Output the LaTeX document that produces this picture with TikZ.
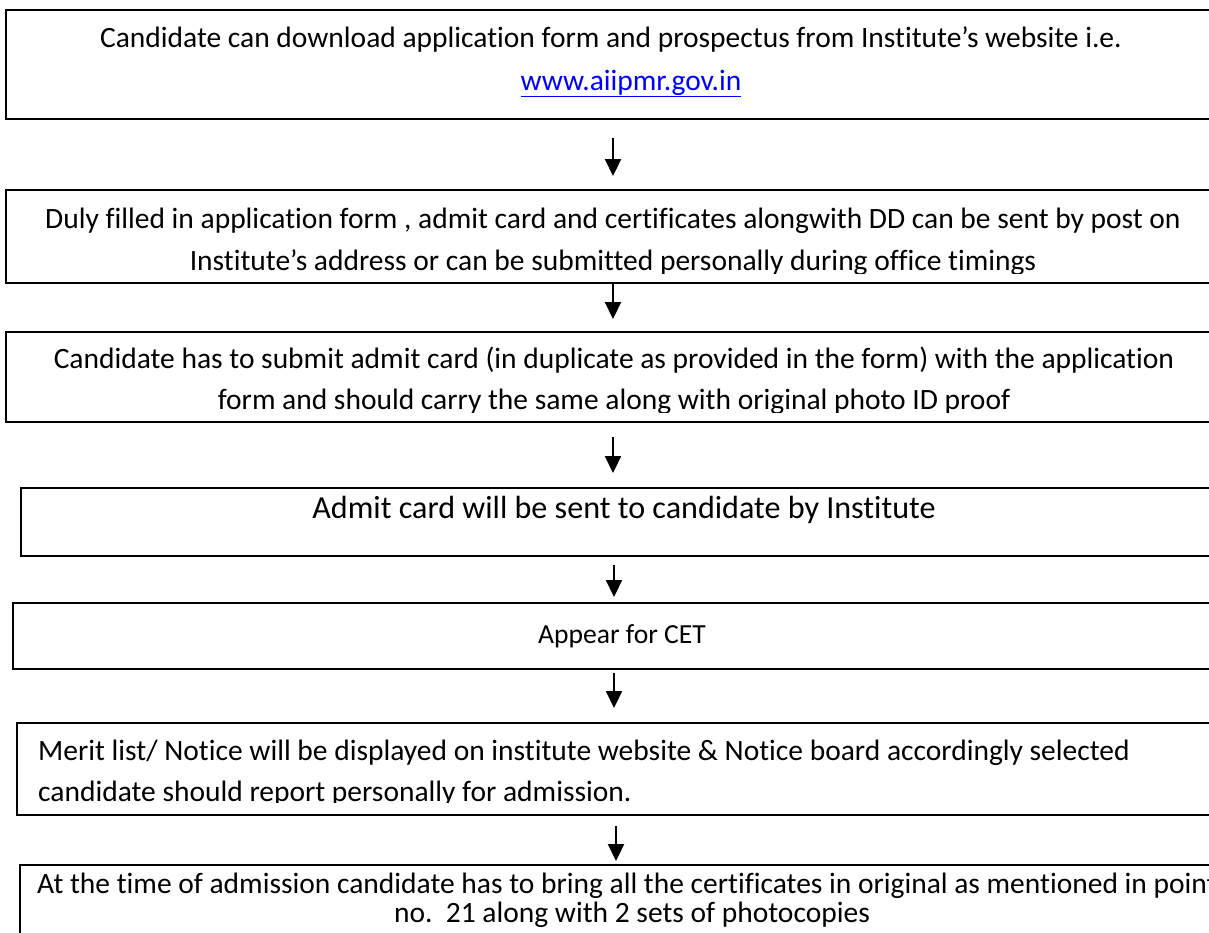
\documentclass[tikz,border=0pt]{standalone}
\usepackage{fontspec}
\setmainfont{Carlito}[Ligatures=NoCommon]
\usetikzlibrary{arrows.meta}
\definecolor{linkblue}{RGB}{0,0,255}
\tikzset{
  box/.style={draw=black, line width=2pt, inner sep=0pt, anchor=north west},
  arr/.style={line width=2.2pt, -{Triangle[length=17pt,width=16pt]}},
  txt/.style={anchor=base, inner sep=0pt, font=\fontsize{29.5}{35}\selectfont},
  txtl/.style={anchor=base west, inner sep=0pt, font=\fontsize{29.5}{35}\selectfont},
}
\begin{document}
\begin{tikzpicture}[x=1pt,y=-1pt]
\useasboundingbox (0,0) rectangle (1209,932);
\fill[white] (0,0) rectangle (1209,932);

% boxes
\node[box, minimum width=1225pt, minimum height=109pt] (b1) at (5,9) {};
\node[box, minimum width=1225pt, minimum height=93pt] (b2) at (5,189) {};
\node[box, minimum width=1225pt, minimum height=90pt] (b3) at (5,331) {};
\node[box, minimum width=1210pt, minimum height=68pt] (b4) at (20,487) {};
\node[box, minimum width=1218pt, minimum height=66pt] (b5) at (12,602) {};
\node[box, minimum width=1214pt, minimum height=92pt] (b6) at (16,722) {};
\node[box, minimum width=1211pt, minimum height=100pt] (b7) at (19,864) {};

% texts
\node[txt] (t1a) at (611,47) {Candidate can download application form and prospectus from Institute’s website i.e.};
\node[txt, text=linkblue] (t1b) at (631,90) {\underline{www.aiipmr.gov.in}};

\begin{scope}
\clip (0,190) rectangle (1209,273);
\node[txt] (t2a) at (613,228) {Duly filled in application form , admit card and certificates alongwith DD can be sent by post on};
\node[txt] (t2b) at (613,270) {Institute’s address or can be submitted personally during office timings};
\end{scope}

\begin{scope}
\clip (0,332) rectangle (1209,412);
\node[txt] (t3a) at (614,368) {Candidate has to submit admit card (in duplicate as provided in the form) with the application};
\node[txt] (t3b) at (614,409) {form and should carry the same along with original photo ID proof};
\end{scope}

\node[txt, font=\fontsize{32.1}{38}\selectfont] (t4) at (624,518) {Admit card will be sent to candidate by Institute};
\node[txt, font=\fontsize{27.6}{33}\selectfont] (t5) at (622,643) {Appear for CET};

\begin{scope}
\clip (0,723) rectangle (1209,802);
\node[txtl] (t6a) at (38,760) {Merit list/ Notice will be displayed on institute website \& Notice board accordingly selected};
\node[txtl] (t6b) at (38,801) {candidate should report personally for admission.};
\end{scope}

\node[txt] (t7a) at (627,893) {At the time of admission candidate has to bring all the certificates in original as mentioned in point};
\node[txt] (t7b) at (632,922) {no.\ \ 21 along with 2 sets of photocopies};

% arrows
\coordinate (a1s) at (613,138); \coordinate (a1e) at (613,176);
\coordinate (a2s) at (613,282); \coordinate (a2e) at (613,319);
\coordinate (a3s) at (613,437); \coordinate (a3e) at (613,473);
\coordinate (a4s) at (614,565); \coordinate (a4e) at (614,597);
\coordinate (a5s) at (614,673); \coordinate (a5e) at (614,708);
\coordinate (a6s) at (616,826); \coordinate (a6e) at (616,861);
\draw[arr] (a1s) -- (a1e);
\draw[arr] (a2s) -- (a2e);
\draw[arr] (a3s) -- (a3e);
\draw[arr] (a4s) -- (a4e);
\draw[arr] (a5s) -- (a5e);
\draw[arr] (a6s) -- (a6e);
\end{tikzpicture}
\end{document}
